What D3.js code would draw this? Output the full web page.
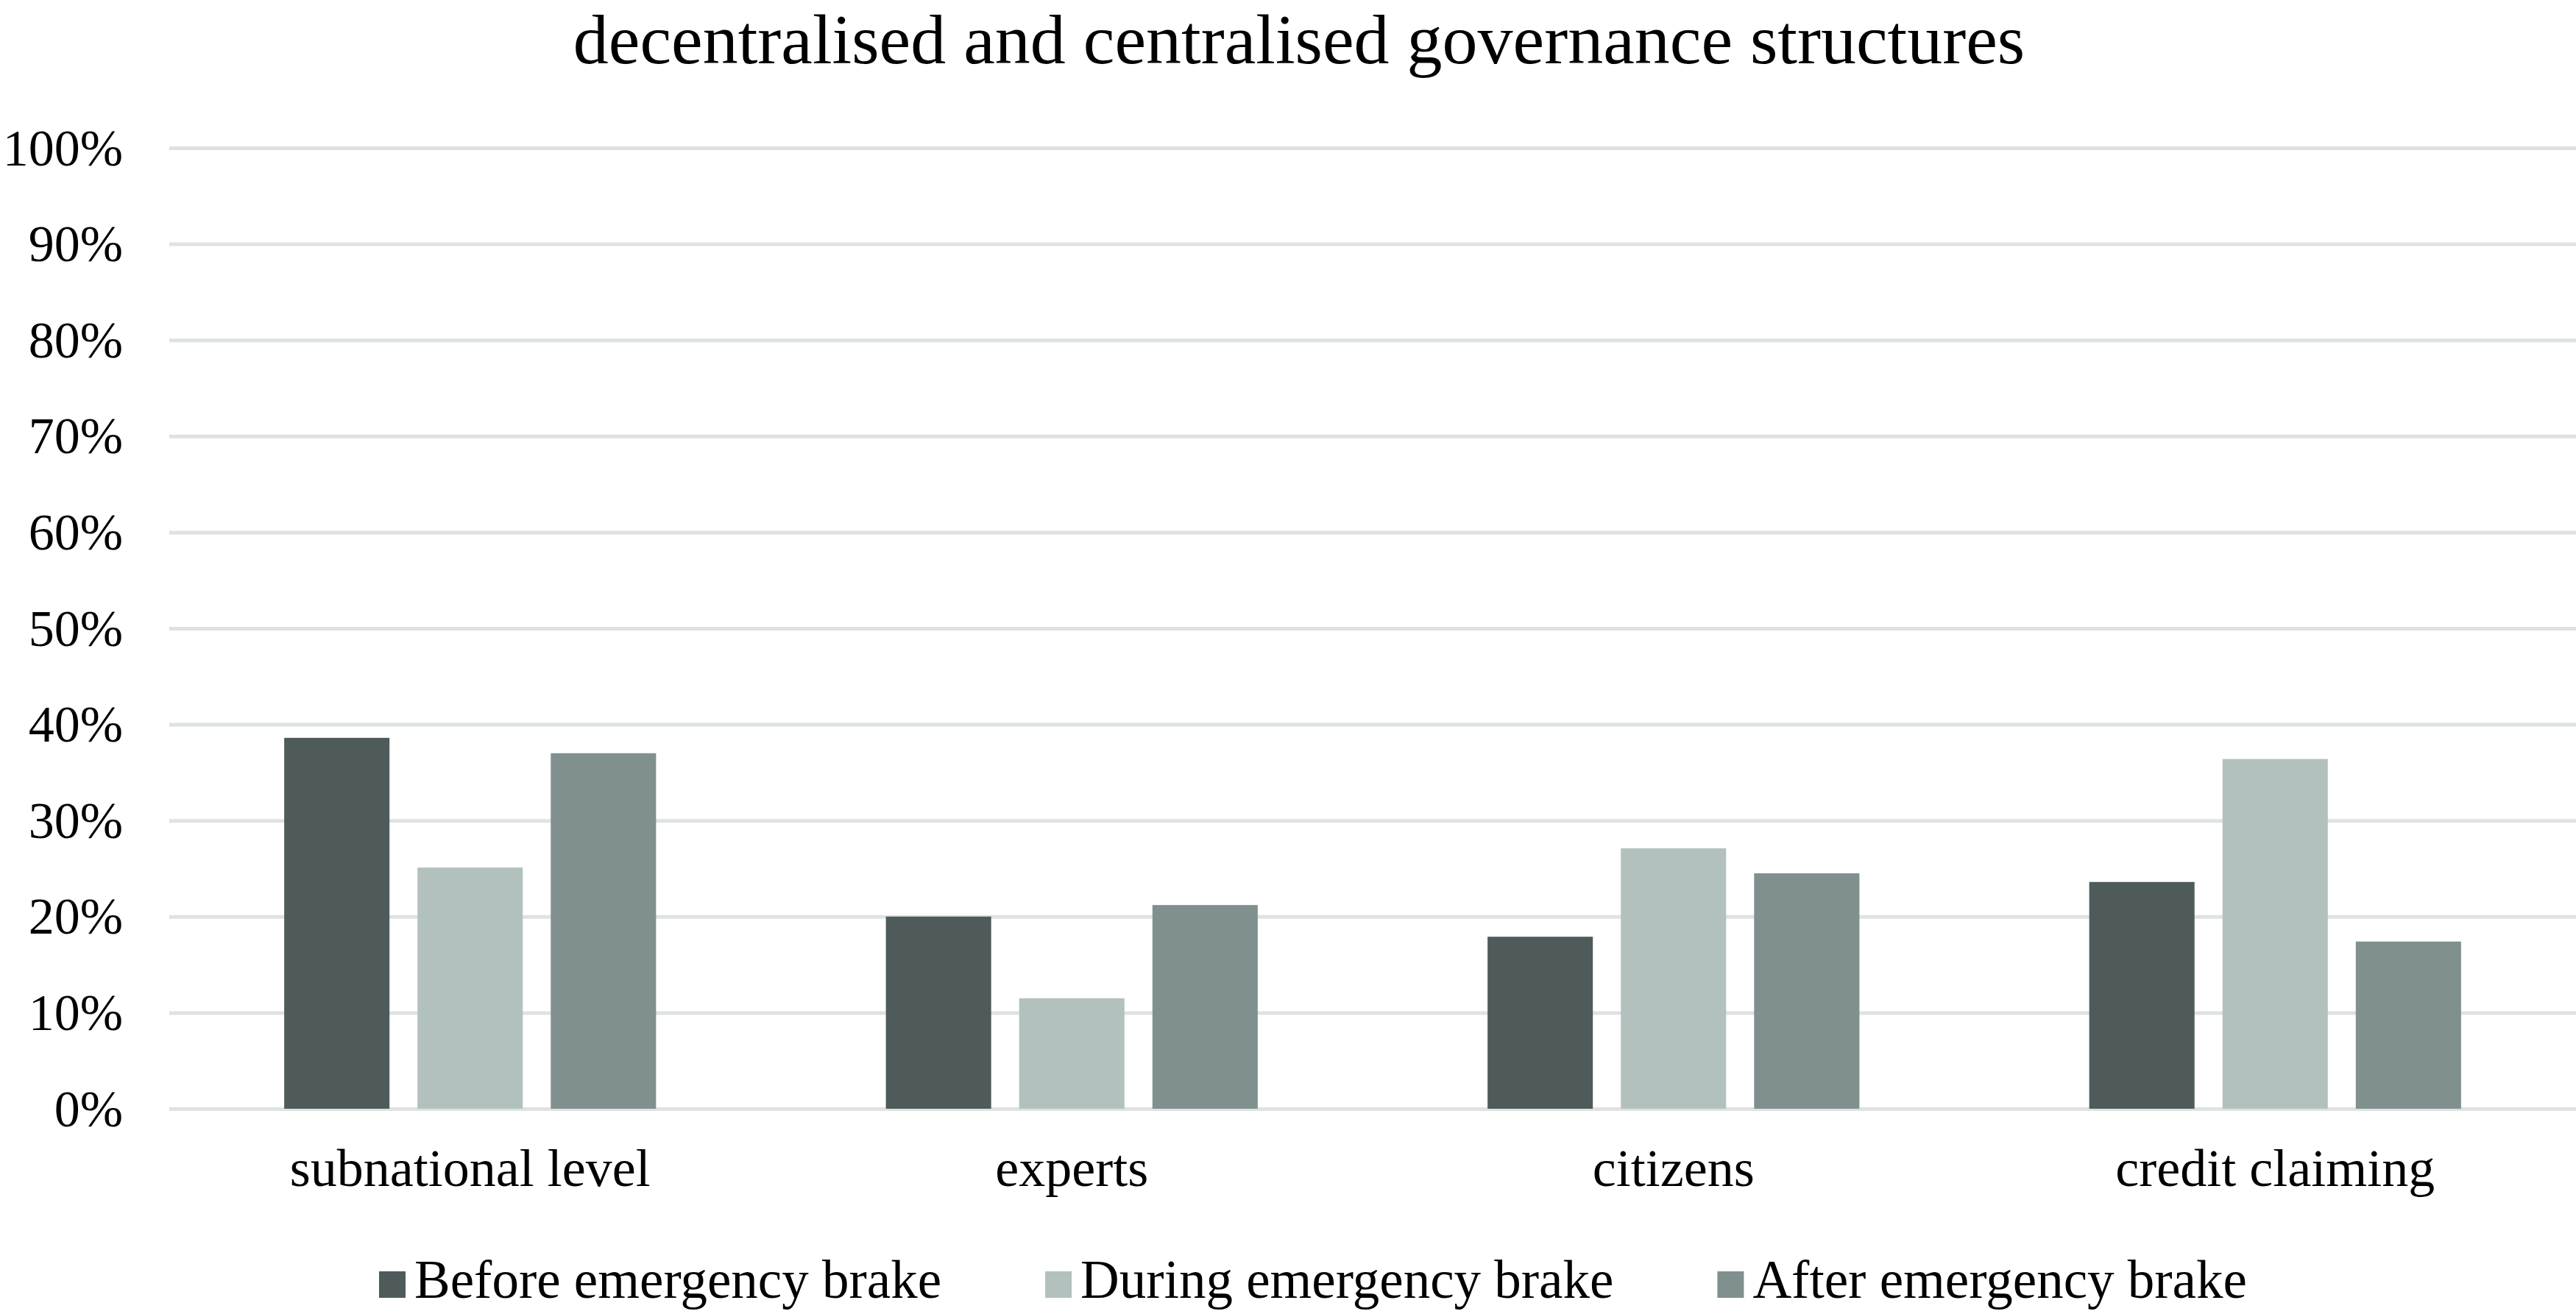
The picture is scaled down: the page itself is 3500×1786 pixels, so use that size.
<!DOCTYPE html>
<html lang="en">
<head>
  <meta charset="UTF-8">
  <title>governance-structures</title>
  <script src="https://cdn.jsdelivr.net/npm/d3@7"></script>
  <style>
    body { margin: 0; background: #fff; }
    svg text { font-family: "Liberation Serif", "Times New Roman", serif; fill: #000; }
  </style>
</head>
<body>
<script>
const title = 'decentralised and centralised governance structures';
const categories = ['subnational level', 'experts', 'citizens', 'credit claiming'];
const seriesNames = ['Before emergency brake', 'During emergency brake', 'After emergency brake'];
const before = [0.386, 0.200, 0.179, 0.236];
const during = [0.251, 0.115, 0.271, 0.364];
const after = [0.370, 0.212, 0.245, 0.174];
const yTicks = [0, 0.1, 0.2, 0.3, 0.4, 0.5, 0.6, 0.7, 0.8, 0.9, 1];
const colors = ['#4e5b5a', '#b3c1be', '#80908f'];

const width = 3500;
const height = 1786;
const margins = {top: 201, left: 230, right: 0, bottom: 279};
const seriesValues = [before, during, after];

const svg = d3.select('body')
  .append('svg')
  .attr('width', width)
  .attr('height', height);

const x0 = d3.scaleBand()
  .domain(categories)
  .range([margins.left, width - margins.right])
  .paddingInner(0.382)
  .paddingOuter(0.191);

const x1 = d3.scaleBand()
  .domain(d3.range(seriesNames.length))
  .range([0, x0.bandwidth()])
  .paddingInner(0.21);

const y = d3.scaleLinear()
  .domain([0, 1])
  .range([height - margins.bottom, margins.top]);

// title
svg.append('text')
  .attr('x', 1765)
  .attr('y', 86)
  .attr('text-anchor', 'middle')
  .style('font-size', '96px')
  .text(title);

// y axis with gridlines
const yAxis = d3.axisLeft(y)
  .tickValues(yTicks)
  .tickFormat(d3.format('.0%'))
  .tickSize(-(width - margins.left - margins.right))
  .tickPadding(63);

const yG = svg.append('g')
  .attr('transform', 'translate(' + margins.left + ',0)')
  .call(yAxis);
yG.select('.domain').remove();
yG.selectAll('.tick line')
  .attr('stroke', '#dde3e2')
  .attr('stroke-width', 5);
yG.selectAll('.tick text')
  .attr('dy', '0.33em')
  .style('font-size', '70px')
  .style('font-family', '"Liberation Serif", serif')
  .attr('fill', '#000');

// bars
const groups = svg.append('g')
  .selectAll('g')
  .data(categories)
  .join('g')
  .attr('transform', d => 'translate(' + x0(d) + ',0)');

groups.selectAll('rect')
  .data((d, i) => seriesValues.map((s, k) => ({k: k, v: s[i]})))
  .join('rect')
  .attr('x', d => x1(d.k))
  .attr('y', d => y(d.v))
  .attr('width', x1.bandwidth())
  .attr('height', d => y(0) - y(d.v))
  .attr('fill', d => colors[d.k]);

// x axis labels
const xAxis = d3.axisBottom(x0)
  .tickSize(0)
  .tickPadding(0);

const xG = svg.append('g')
  .attr('transform', 'translate(0,' + (height - margins.bottom) + ')')
  .call(xAxis);
xG.select('.domain').remove();
xG.selectAll('.tick text')
  .attr('y', 105)
  .attr('dy', 0)
  .style('font-size', '72px')
  .style('font-family', '"Liberation Serif", serif')
  .attr('fill', '#000');

// legend
const legend = svg.append('g');
let lx = 515;
seriesNames.forEach(function (name, i) {
  legend.append('rect')
    .attr('x', lx)
    .attr('y', 1728)
    .attr('width', 36)
    .attr('height', 36)
    .attr('fill', colors[i]);
  const t = legend.append('text')
    .attr('x', lx + 48)
    .attr('y', 1764)
    .style('font-size', '73px')
    .text(name);
  lx += 48 + t.node().getComputedTextLength() + 141;
});
</script>
</body>
</html>
